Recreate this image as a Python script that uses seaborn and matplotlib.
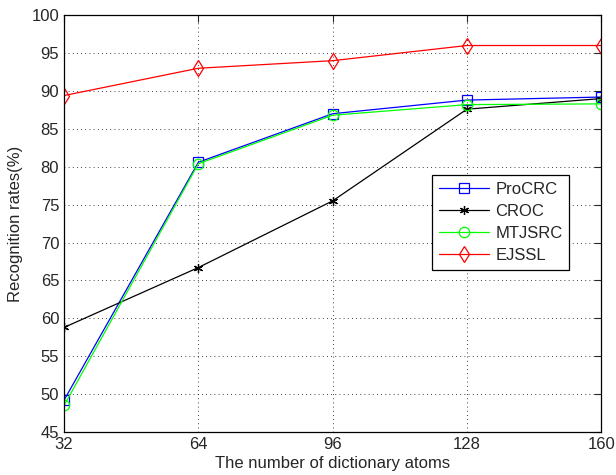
"""Recognition rate vs. dictionary size (line chart)."""

import matplotlib
matplotlib.use("Agg")
import matplotlib.pyplot as plt
import pandas as pd
import seaborn as sns

atoms = [32, 64, 96, 128, 160]
procrc = [49.2, 80.6, 87.0, 88.8, 89.2]
croc = [58.8, 66.7, 75.5, 87.6, 89.0]
mtjsrc = [48.5, 80.4, 86.8, 88.2, 88.3]
ejssl = [89.4, 93.0, 94.0, 96.0, 96.0]

methods = ["ProCRC", "CROC", "MTJSRC", "EJSSL"]
colors = ["#0000ff", "#000000", "#00ff00", "#ff0000"]
markers = ["s", (6, 2, 0), "o", "d"]
msizes = [7.5, 6.5, 7.5, 8]


def main() -> None:
    sns.set_style("white")
    plt.rcParams["font.family"] = ["Liberation Sans", "DejaVu Sans"]

    df = pd.DataFrame({
        "atoms": atoms * 4,
        "rate": procrc + croc + mtjsrc + ejssl,
        "method": sum([[m] * len(atoms) for m in methods], []),
    })

    fig = plt.figure(figsize=(6.16, 4.75), dpi=100)
    ax = fig.add_axes([0.104, 0.0905, 0.872, 0.8775])

    for name, col, mk, ms in zip(methods, colors, markers, msizes):
        sub = df.loc[df["method"] == name]
        sns.lineplot(
            data=sub, x="atoms", y="rate", ax=ax, color=col, label=name,
            marker=mk, markersize=ms,
            markerfacecolor="none", markeredgecolor=col, markeredgewidth=0.9,
            linewidth=0.9,
        )

    ax.set_xlim(32, 160)
    ax.set_ylim(45, 100)
    ax.set_xticks(atoms)
    ax.set_yticks(range(45, 101, 5))
    ax.grid(True, linestyle=(0, (1, 4)), color="black", linewidth=0.6)
    ax.tick_params(direction="in", top=True, right=True, labelsize=12, length=5, width=0.8)
    for sp in ax.spines.values():
        sp.set_color("black")
        sp.set_linewidth(0.9)

    ax.set_xlabel("The number of dictionary atoms", fontsize=12, labelpad=3)
    ax.set_ylabel("Recognition rates(%)", fontsize=12, labelpad=6)

    leg = ax.legend(loc="upper left", bbox_to_anchor=(0.685, 0.616), fontsize=12,
                    fancybox=False, framealpha=1, edgecolor="black",
                    handlelength=3.0, handletextpad=0.4, borderpad=0.4,
                    labelspacing=0.42, borderaxespad=0)
    leg.get_frame().set_linewidth(0.9)

    fig.savefig("out.png", dpi=100)
    plt.close("all")


if __name__ == "__main__":
    main()
